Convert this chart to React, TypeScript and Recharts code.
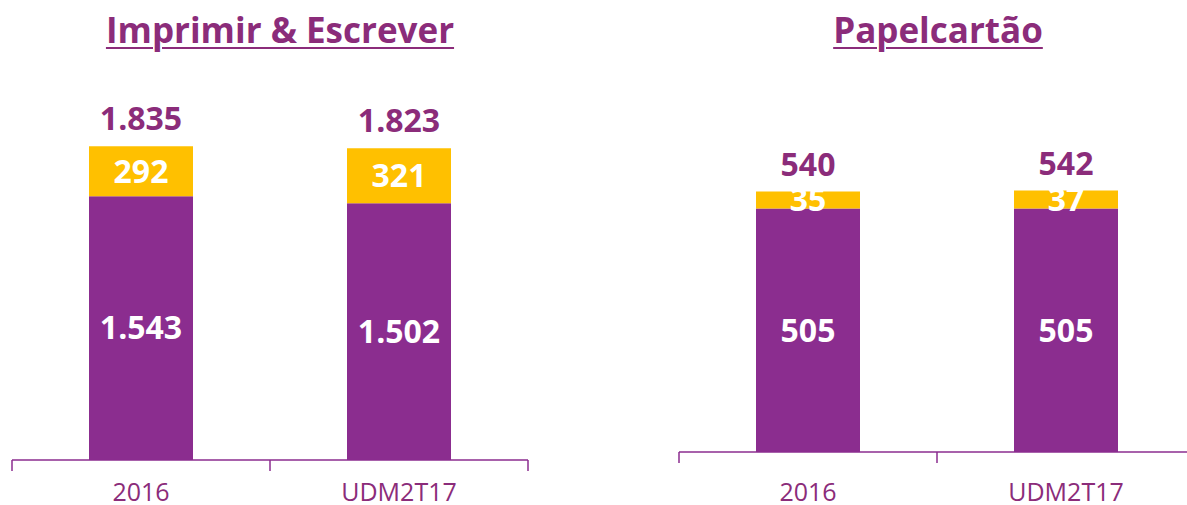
import React from "react";
import { Bar, BarChart, LabelList, XAxis, YAxis } from "recharts";

// categorias e valores (mil toneladas)
const categorias = ["2016", "UDM2T17"];
const imprimirBase = [1543, 1502];
const imprimirTopo = [292, 321];
const imprimirTotal = [1835, 1823];
const papelBase = [505, 505];
const papelTopo = [35, 37];
const papelTotal = [540, 542];

const ROXO = "#8B2D8F";
const AMARELO = "#FFC000";
const TEXTO = "#8B2C7A";
const FONTE = "'Open Sans', 'Noto Sans', sans-serif";

const CHART_W = 540;
const PLOT_W = 516;

function fmt(v: number): string {
  return String(v).replace(/\B(?=(\d{3})+(?!\d))/g, ".");
}

function montar(base: number[], topo: number[], total: number[]) {
  return categorias.map((c, i) => ({ cat: c, base: base[i], topo: topo[i], total: total[i] }));
}

function Tick(props: any) {
  const { x, y, payload, index, visibleTicksCount, dy } = props;
  const meio = PLOT_W / categorias.length / 2;
  const ultimo = index === (visibleTicksCount ?? categorias.length) - 1;
  return (
    <g>
      <line x1={x - meio} x2={x - meio} y1={y} y2={y + 11} stroke={ROXO} strokeWidth={1.5} />
      {ultimo && <line x1={x + meio} x2={x + meio} y1={y} y2={y + 11} stroke={ROXO} strokeWidth={1.5} />}
      <text x={x} y={y + dy} textAnchor="middle" fill={TEXTO} fontSize={25} fontFamily={FONTE}>
        {payload.value}
      </text>
    </g>
  );
}

function Painel({
  dados,
  max,
  top,
  eixo,
}: {
  dados: ReturnType<typeof montar>;
  max: number;
  top: number;
  eixo: number;
}) {
  return (
    <BarChart
      width={CHART_W}
      height={505}
      data={dados}
      margin={{ top, right: 12, bottom: 0, left: 12 }}
      barSize={104}
    >
      <XAxis
        dataKey="cat"
        height={eixo}
        tickSize={0}
        tickMargin={0}
        tickLine={false}
        axisLine={{ stroke: ROXO, strokeWidth: 1.5 }}
        tick={<Tick dy={eixo - 4} />}
        interval={0}
      />
      <YAxis hide domain={[0, max]} />
      <Bar dataKey="base" stackId="a" fill={ROXO} isAnimationActive={false}>
        <LabelList
          dataKey="base"
          position="center"
          formatter={(v: any) => fmt(Number(v))}
          fill="#fff"
          fontSize={32}
          fontWeight={700}
          fontFamily={FONTE}
        />
      </Bar>
      <Bar dataKey="topo" stackId="a" fill={AMARELO} isAnimationActive={false}>
        <LabelList
          dataKey="topo"
          position="center"
          formatter={(v: any) => fmt(Number(v))}
          fill="#fff"
          fontSize={32}
          fontWeight={700}
          fontFamily={FONTE}
        />
        <LabelList
          dataKey="total"
          position="top"
          offset={16}
          formatter={(v: any) => fmt(Number(v))}
          fill={TEXTO}
          fontSize={32}
          fontWeight={700}
          fontFamily={FONTE}
        />
      </Bar>
    </BarChart>
  );
}

const tituloEstilo: React.CSSProperties = {
  position: "absolute",
  top: 12,
  textAlign: "center",
  fontFamily: FONTE,
  fontWeight: 700,
  fontSize: 35,
  lineHeight: "36px",
  color: TEXTO,
  textDecoration: "underline",
  textDecorationThickness: 2,
  textUnderlineOffset: 4,
};

export default function App() {
  return (
    <div
      style={{
        position: "absolute",
        left: 0,
        top: 0,
        width: 1187,
        height: 505,
        overflow: "hidden",
        background: "#fff",
      }}
    >
      <div style={{ ...tituloEstilo, left: 0, width: 560 }}>Imprimir &amp; Escrever</div>
      <div style={{ ...tituloEstilo, left: 658, width: 560 }}>Papelcartão</div>
      <div style={{ position: "absolute", left: 0, top: 0 }}>
        <Painel dados={montar(imprimirBase, imprimirTopo, imprimirTotal)} max={2000} top={118} eixo={45} />
      </div>
      <div style={{ position: "absolute", left: 667, top: 0 }}>
        <Painel dados={montar(papelBase, papelTopo, papelTotal)} max={705} top={112} eixo={53} />
      </div>
    </div>
  );
}
